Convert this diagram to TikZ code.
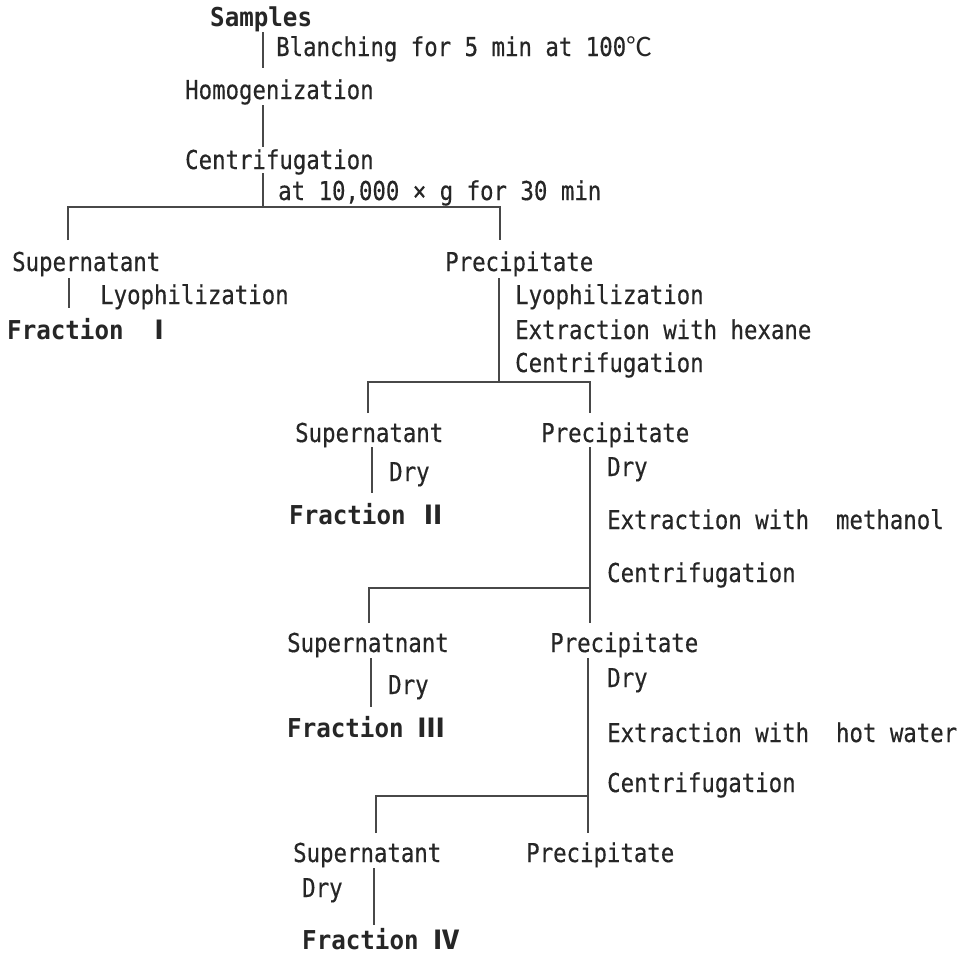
\documentclass[tikz,border=0pt]{standalone}
\usepackage{fontspec}
\newfontfamily\mono[FakeStretch=0.86,FakeBold=0.4]{DejaVu Sans Mono}
\newfontfamily\monob[FakeStretch=0.93]{DejaVu Sans Mono Bold}
\newfontfamily\cjk{Noto Sans CJK SC}
\definecolor{ink}{HTML}{262626}
\definecolor{rule}{HTML}{484848}
\newcommand{\rn}[1]{{\cjk\bfseries #1}}
\tikzset{
  lbl/.style={anchor=base west, inner sep=0pt, text=ink, font=\mono\fontsize{26}{30}\selectfont},
  blbl/.style={anchor=base west, inner sep=0pt, text=ink, font=\monob\fontsize{26}{30}\selectfont},
  conn/.style={draw=rule, line width=1.3pt},
  thickconn/.style={draw=rule, line width=2.4pt}
}
\begin{document}
\begin{tikzpicture}[x=1pt,y=-1pt]
\useasboundingbox[fill=white] (0,0) rectangle (964,954);
% texts
\node[blbl] (samples) at (210,26) {Samples};
\node[lbl] (blanch) at (276,56) {Blanching for 5 min at 100{\cjk ℃}};
\node[lbl] (homog) at (185,99) {Homogenization};
\node[lbl] (centri) at (185,169) {Centrifugation};
\node[lbl] (at10) at (278,200) {at 10,000 × g for 30 min};
\node[lbl] (sup1) at (12,271) {Supernatant};
\node[lbl] (lyo1) at (100,304) {Lyophilization};
\node[blbl] (frac1) at (7,339) {Fraction~\hspace{8pt}\rn{Ⅰ}};
\node[lbl] (prec1) at (445,271) {Precipitate};
\node[lbl] (lyo2) at (515,304) {Lyophilization};
\node[lbl] (ext1) at (515,339) {Extraction with hexane};
\node[lbl] (cen2) at (515,372) {Centrifugation};
\node[lbl] (sup2) at (295,442) {Supernatant};
\node[lbl] (dry2) at (389,481) {Dry};
\node[blbl] (frac2) at (289,524) {Fraction~\rn{Ⅱ}};
\node[lbl] (prec2) at (541,442) {Precipitate};
\node[lbl] (dry3) at (607,476) {Dry};
\node[lbl] (ext2) at (607,529) {Extraction with~~methanol};
\node[lbl] (cen3) at (607,582) {Centrifugation};
\node[lbl] (sup3) at (287,652) {Supernatnant};
\node[lbl] (dry4) at (388,694) {Dry};
\node[blbl] (frac3) at (287,737) {Fraction~\rn{Ⅲ}};
\node[lbl] (prec3) at (550,652) {Precipitate};
\node[lbl] (dry5) at (607,687) {Dry};
\node[lbl] (ext3) at (607,742) {Extraction with~~hot water};
\node[lbl] (cen4) at (607,792) {Centrifugation};
\node[lbl] (sup4) at (293,862) {Supernatant};
\node[lbl] (prec4) at (526,862) {Precipitate};
\node[lbl] (dry6) at (302,897) {Dry};
\node[blbl] (frac4) at (302,949) {Fraction~\rn{Ⅳ}};
% connector coordinates
\coordinate (a1) at (263,32);  \coordinate (a2) at (263,68);
\coordinate (b1) at (263,105); \coordinate (b2) at (263,147);
\coordinate (c1) at (263,173); \coordinate (c2) at (263,207);
\coordinate (cl) at (68,207);  \coordinate (cr) at (500,207);
\coordinate (cld) at (68,240); \coordinate (crd) at (500,240);
\coordinate (d1) at (69,278);  \coordinate (d2) at (69,308);
\coordinate (e1) at (499,278); \coordinate (e2) at (499,382);
\coordinate (el) at (368,382); \coordinate (er) at (590,382);
\coordinate (eld) at (368,413); \coordinate (erd) at (590,413);
\coordinate (f1) at (372,447); \coordinate (f2) at (372,493);
\coordinate (g1) at (590,447); \coordinate (g2) at (590,588);
\coordinate (gl) at (369,588); \coordinate (gld) at (369,623);
\coordinate (grd) at (590,623);
\coordinate (h1) at (371,658); \coordinate (h2) at (371,707);
\coordinate (i1) at (588,658); \coordinate (i2) at (588,796);
\coordinate (il) at (376,796); \coordinate (ild) at (376,833);
\coordinate (ird) at (588,833);
\coordinate (k1) at (374,868); \coordinate (k2) at (374,925);
% connectors
\draw[conn] (a1) -- (a2);
\draw[conn] (b1) -- (b2);
\draw[conn] (c1) -- (c2);
\draw[conn] (cld) -- (cl) -- (cr) -- (crd);
\draw[conn] (d1) -- (d2);
\draw[conn] (e1) -- (e2);
\draw[conn] (eld) -- (el) -- (er) -- (erd);
\draw[conn] (f1) -- (f2);
\draw[conn] (g1) -- (grd);
\draw[conn] (gld) -- (gl) -- (g2);
\draw[conn] (h1) -- (h2);
\draw[conn] (i1) -- (ird);
\draw[conn] (ild) -- (il) -- (i2);
\draw[thickconn] (k1) -- (k2);
\end{tikzpicture}
\end{document}
